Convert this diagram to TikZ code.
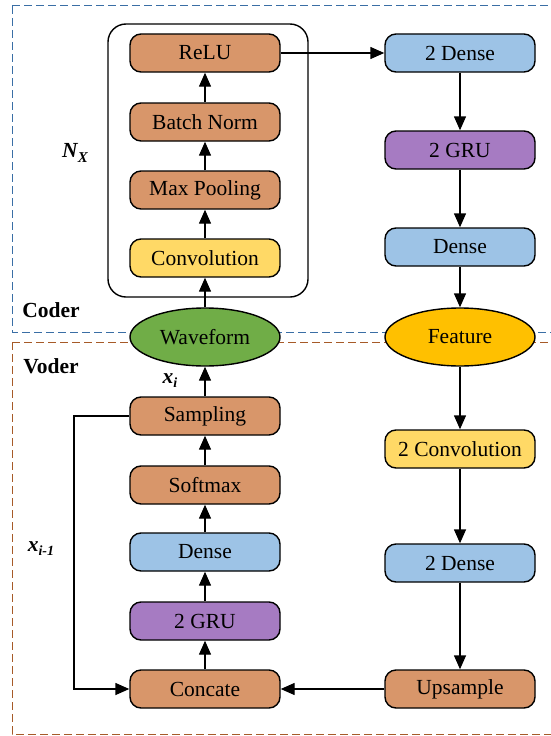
\documentclass[tikz,border=0pt]{standalone}
\usepackage{fontspec}
\setmainfont{Liberation Serif}
\usetikzlibrary{arrows.meta,shapes.geometric}
\definecolor{brick}{RGB}{216,150,106}
\definecolor{sky}{RGB}{157,195,230}
\definecolor{lilac}{RGB}{166,123,194}
\definecolor{gold}{RGB}{255,217,102}
\definecolor{leaf}{RGB}{112,173,71}
\definecolor{amber}{RGB}{255,192,0}
\definecolor{coderline}{RGB}{58,110,165}
\definecolor{voderline}{RGB}{166,90,40}

\begin{document}
\begin{tikzpicture}[x=1bp,y=-1bp,
  blk/.style={draw,line width=1.4bp,rounded corners=11bp,minimum width=150bp,minimum height=38bp,inner sep=0pt,font=\fontsize{21.5bp}{25bp}\selectfont},
  oval/.style={draw,line width=1.4bp,ellipse,minimum width=150bp,minimum height=58bp,inner sep=0pt,font=\fontsize{21.5bp}{25bp}\selectfont},
  arr/.style={line width=1.4bp,-{Triangle[length=14bp,width=12bp]}},
  lab/.style={font=\fontsize{21.5bp}{25bp}\selectfont\bfseries},
  region/.style={line width=1bp,dash pattern=on 8bp off 4bp}]
\useasboundingbox (0,0) rectangle (551,736);
\draw[region,coderline] (12,6) rectangle (560,332);
\draw[region,voderline] (12,342) rectangle (560,734);

\node[draw,line width=1.4bp,rounded corners=18bp,minimum width=200bp,minimum height=273bp] (nx) at (208,160.5) {};
\node[blk,fill=brick] (relu) at (205,53) {ReLU};
\node[blk,fill=brick] (bn) at (205,122) {Batch Norm};
\node[blk,fill=brick] (mp) at (205,190) {Max Pooling};
\node[blk,fill=gold] (conv) at (205,258) {Convolution};
\node[oval,fill=leaf] (wave) at (205,337) {Waveform};
\node[blk,fill=brick] (samp) at (205,416) {Sampling};
\node[blk,fill=brick] (soft) at (205,485) {Softmax};
\node[blk,fill=sky] (dense) at (205,552) {Dense};
\node[blk,fill=lilac] (gru) at (205,621) {2 GRU};
\node[blk,fill=brick] (cat) at (205,689) {Concate};

\node[blk,fill=sky] (dense2) at (460,53) {2 Dense};
\node[blk,fill=lilac] (gru2) at (460,150) {2 GRU};
\node[blk,fill=sky] (dense1) at (460,247) {Dense};
\node[oval,fill=amber] (feat) at (460,337) {Feature};
\node[blk,fill=gold] (conv2) at (460,449) {2 Convolution};
\node[blk,fill=sky] (dense3) at (460,563) {2 Dense};
\node[blk,fill=brick] (up) at (460,689) {Upsample};

\node[lab] (coder) at (51,310) {Coder};
\node[lab] (voder) at (51,366) {Voder};
\node[lab,font=\fontsize{21.5bp}{25bp}\selectfont\bfseries\itshape] (nxlab) at (75,153) {N\raisebox{-5bp}{\fontsize{15bp}{18bp}\selectfont X}};
\node[lab,font=\fontsize{21.5bp}{25bp}\selectfont\bfseries\itshape] (xi) at (170,381) {x\raisebox{-4bp}{\fontsize{14bp}{17bp}\selectfont i}};
\node[lab,font=\fontsize{21.5bp}{25bp}\selectfont\bfseries\itshape] (xprev) at (41,549) {x\raisebox{-4bp}{\fontsize{14bp}{17bp}\selectfont i-1}};

\draw[arr] (conv) -- (mp);
\draw[arr] (mp) -- (bn);
\draw[arr] (bn) -- (relu);
\draw[arr] (relu) -- (dense2);
\draw[arr] (dense2) -- (gru2);
\draw[arr] (gru2) -- (dense1);
\draw[arr] (dense1) -- (feat);
\draw[arr] (feat) -- (conv2);
\draw[arr] (conv2) -- (dense3);
\draw[arr] (dense3) -- (up);
\draw[arr] (up) -- (cat);
\draw[arr] (wave) -- (conv);
\draw[arr] (samp) -- (wave);
\draw[arr] (soft) -- (samp);
\draw[arr] (dense) -- (soft);
\draw[arr] (gru) -- (dense);
\draw[arr] (cat) -- (gru);
\coordinate (back) at (74,416);
\draw[arr] (samp) -- (back) |- (cat);
\end{tikzpicture}
\end{document}
